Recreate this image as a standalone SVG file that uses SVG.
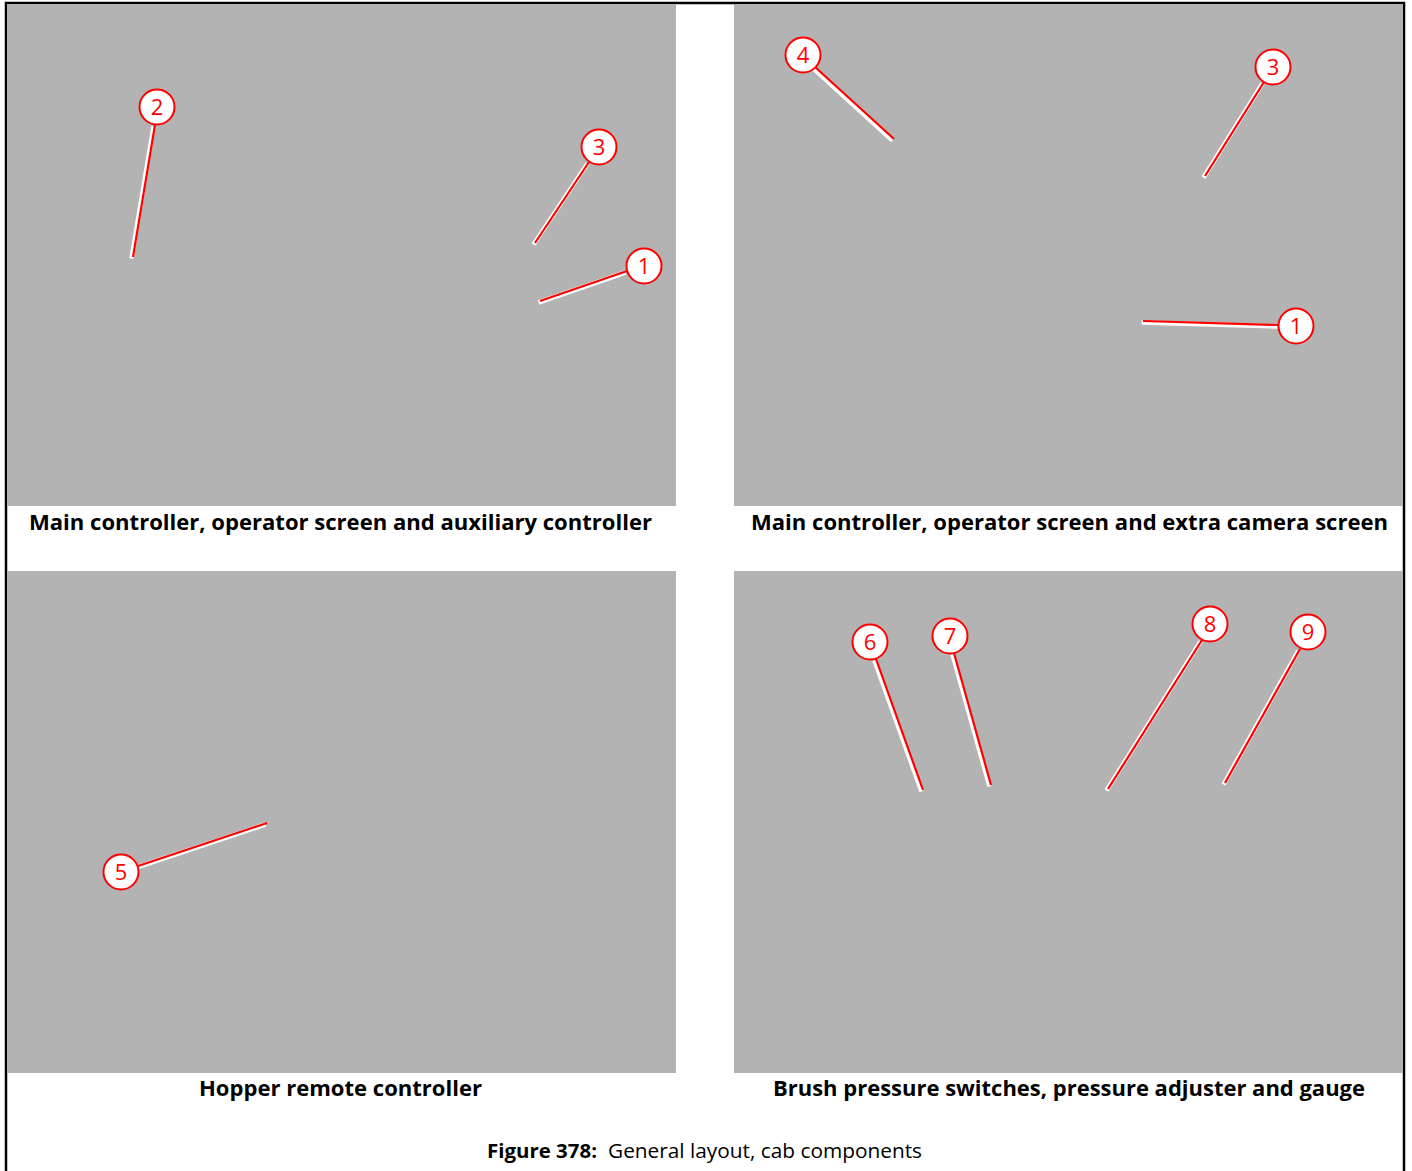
<svg xmlns="http://www.w3.org/2000/svg" width="1412" height="1171" viewBox="0 0 1412 1171">
<style>
.panel{fill:#b3b3b3}
.cap{font-family:"Open Sans","Liberation Sans",sans-serif;font-weight:bold;font-size:22px;fill:#000;text-anchor:middle}
.fig{font-family:"Open Sans","Liberation Sans",sans-serif;font-size:20px;fill:#000}
.lw{stroke:#fff;stroke-width:4.5;fill:none}
.lr{stroke:#f00;stroke-width:2.2;fill:none}
.bub{fill:#fff;stroke:#f00;stroke-width:2}
.num{font-family:"Open Sans","Liberation Sans",sans-serif;font-size:22px;fill:#f00;text-anchor:middle}
</style>
<rect x="0" y="0" width="1412" height="1171" fill="#fff"/>
<path d="M6 1171 V3 H1404 V1171" fill="none" stroke="#000" stroke-width="2.5"/>
<g id="panels">
<rect class="panel" x="7" y="4" width="669" height="502"/>
<rect class="panel" x="734" y="4" width="669" height="502"/>
<rect class="panel" x="7" y="571" width="669" height="502"/>
<rect class="panel" x="734" y="571" width="669" height="502"/>
</g>
<g id="connectors">
<g transform="translate(-1.5,1.5)">
<line class="lw" x1="155" y1="125" x2="133" y2="257"/>
<line class="lw" x1="589" y1="162" x2="535" y2="243"/>
<line class="lw" x1="627" y1="271" x2="540" y2="301"/>
<line class="lw" x1="815" y1="67" x2="894" y2="139"/>
<line class="lw" x1="1264" y1="82" x2="1205" y2="176"/>
<line class="lw" x1="1279" y1="325" x2="1143" y2="321"/>
<line class="lw" x1="138" y1="866" x2="267" y2="823"/>
<line class="lw" x1="876" y1="659" x2="923" y2="790"/>
<line class="lw" x1="954" y1="653" x2="991" y2="785"/>
<line class="lw" x1="1202" y1="640" x2="1108" y2="789"/>
<line class="lw" x1="1300" y1="649" x2="1225" y2="783"/>
</g>
<line class="lr" x1="155" y1="125" x2="133" y2="257"/>
<line class="lr" x1="589" y1="162" x2="535" y2="243"/>
<line class="lr" x1="627" y1="271" x2="540" y2="301"/>
<line class="lr" x1="815" y1="67" x2="894" y2="139"/>
<line class="lr" x1="1264" y1="82" x2="1205" y2="176"/>
<line class="lr" x1="1279" y1="325" x2="1143" y2="321"/>
<line class="lr" x1="138" y1="866" x2="267" y2="823"/>
<line class="lr" x1="876" y1="659" x2="923" y2="790"/>
<line class="lr" x1="954" y1="653" x2="991" y2="785"/>
<line class="lr" x1="1202" y1="640" x2="1108" y2="789"/>
<line class="lr" x1="1300" y1="649" x2="1225" y2="783"/>
</g>
<g id="c-p1-2"><circle class="bub" cx="157" cy="107" r="17.5"/><text class="num" x="157" y="115">2</text></g>
<g id="c-p1-3"><circle class="bub" cx="599" cy="147" r="17.5"/><text class="num" x="599" y="155">3</text></g>
<g id="c-p1-1"><circle class="bub" cx="644" cy="266" r="17.5"/><text class="num" x="644" y="274">1</text></g>
<g id="c-p2-4"><circle class="bub" cx="803" cy="55" r="17.5"/><text class="num" x="803" y="63">4</text></g>
<g id="c-p2-3"><circle class="bub" cx="1273" cy="67" r="17.5"/><text class="num" x="1273" y="75">3</text></g>
<g id="c-p2-1"><circle class="bub" cx="1296" cy="326" r="17.5"/><text class="num" x="1296" y="334">1</text></g>
<g id="c-p3-5"><circle class="bub" cx="121" cy="872" r="17.5"/><text class="num" x="121" y="880">5</text></g>
<g id="c-p4-6"><circle class="bub" cx="870" cy="642" r="17.5"/><text class="num" x="870" y="650">6</text></g>
<g id="c-p4-7"><circle class="bub" cx="950" cy="636" r="17.5"/><text class="num" x="950" y="644">7</text></g>
<g id="c-p4-8"><circle class="bub" cx="1210" cy="624" r="17.5"/><text class="num" x="1210" y="632">8</text></g>
<g id="c-p4-9"><circle class="bub" cx="1308" cy="632" r="17.5"/><text class="num" x="1308" y="640">9</text></g>
<g id="captions">
<text class="cap" x="340.5" y="530" textLength="623" lengthAdjust="spacingAndGlyphs">Main controller, operator screen and auxiliary controller</text>
<text class="cap" x="1069.5" y="530" textLength="637" lengthAdjust="spacingAndGlyphs">Main controller, operator screen and extra camera screen</text>
<text class="cap" x="340.5" y="1096" textLength="283" lengthAdjust="spacingAndGlyphs">Hopper remote controller</text>
<text class="cap" x="1069" y="1096" textLength="592" lengthAdjust="spacingAndGlyphs">Brush pressure switches, pressure adjuster and gauge</text>
</g>
<g id="figure-caption">
<text class="fig" x="487" y="1158"><tspan font-weight="bold" textLength="110" lengthAdjust="spacingAndGlyphs">Figure 378:</tspan><tspan x="608" textLength="314" lengthAdjust="spacingAndGlyphs">General layout, cab components</tspan></text>
</g>
</svg>
